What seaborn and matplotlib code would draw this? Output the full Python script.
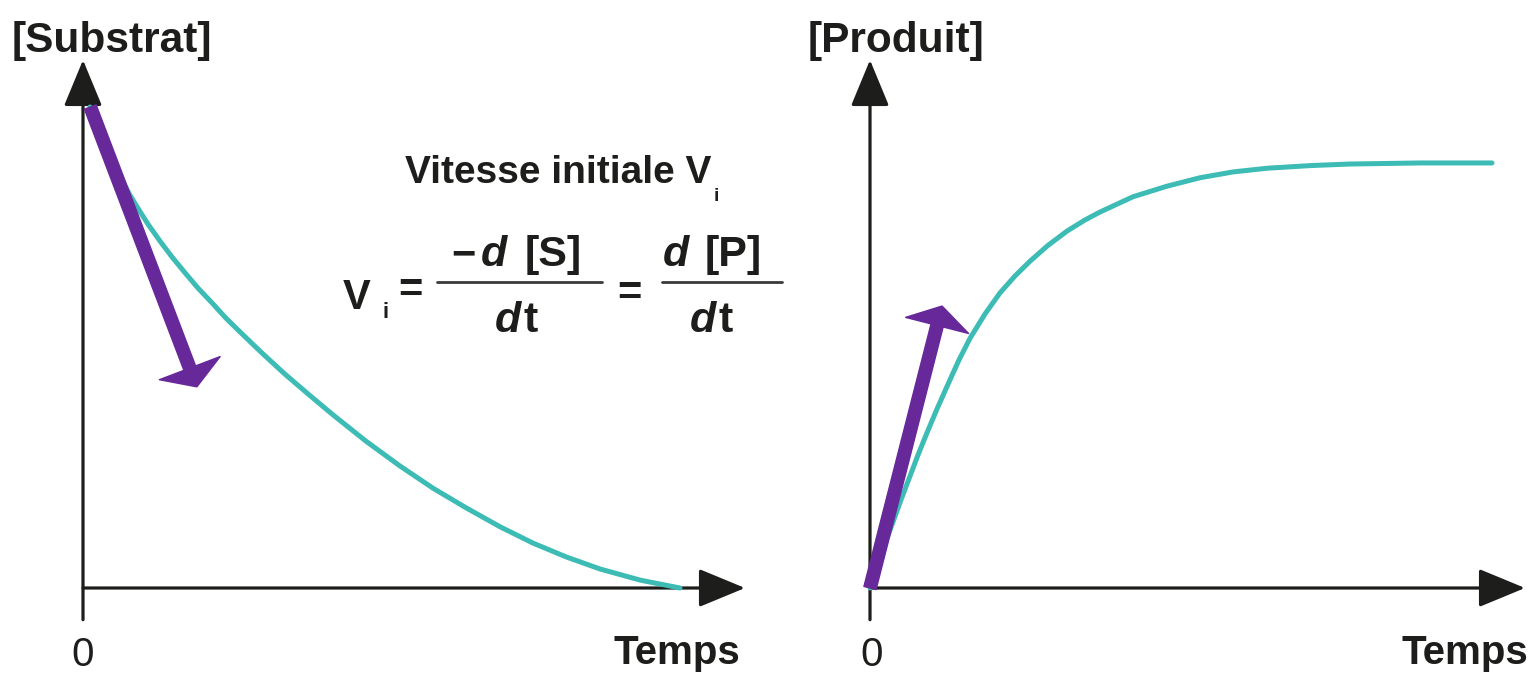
import matplotlib
matplotlib.use("Agg")
import matplotlib.pyplot as plt
import seaborn as sns

# courbes (unites arbitraires : temps 0-100, concentration 0-100)
temps_s = [1.06, 1.81, 2.57, 3.32, 4.08, 4.98, 6.04, 7.10, 8.16, 9.82, 11.63, 13.44,
           15.41, 17.37, 19.49, 21.60, 23.72, 27.04, 30.51, 34.14, 37.76, 42.75,
           47.89, 52.87, 57.85, 62.99, 67.98, 72.96, 78.10, 84.14, 90.18]
substrat = [91.1, 88.8, 86.6, 84.3, 82.0, 79.5, 76.9, 74.4, 72.2, 68.9, 65.7, 62.7,
            59.7, 56.8, 54.0, 51.1, 48.5, 44.5, 40.5, 36.6, 32.8, 27.8,
            23.1, 18.9, 15.2, 11.6, 8.5, 5.9, 3.6, 1.5, 0.0]

temps_p = [0, 0.76, 1.53, 2.44, 3.51, 4.73, 6.11, 7.33, 8.70, 10.23, 11.91, 13.59,
           15.27, 17.56, 19.85, 22.14, 24.43, 27.18, 30.08, 32.82, 35.11, 37.71,
           40.15, 45.34, 50.38, 55.42, 60.61, 67.18, 73.28, 83.97, 94.96]
produit = [0, 2.84, 5.68, 8.90, 12.5, 16.7, 21.2, 25.2, 29.4, 33.9, 38.6, 43.2,
           47.3, 51.9, 55.9, 59.1, 61.9, 64.9, 67.6, 69.7, 71.2, 72.7,
           74.1, 76.1, 77.7, 78.8, 79.5, 80.0, 80.3, 80.5, 80.5]

# tangentes a l'origine (debut, fin)
tangente_s = [(1.1, 91.1), (17.2, 38.1)]
tangente_p = [(0.0, 0.0), (11.0, 53.4)]

teal = "#3cbcb4"
violet = "#67289a"
noir = "#1d1d1b"

sns.set_theme(style="white")
plt.rcParams["font.family"] = ["Liberation Sans", "DejaVu Sans"]

W, H = 1531, 676
fig = plt.figure(figsize=(W / 100, H / 100), dpi=100)


def px(x, y):
    return x / W, 1 - y / H


def place(ax, left, right, x0, y0, sx, sy):
    # axes covering pixels [left, right] x [0, H], origin at (x0, y0)
    ax.set_position([left / W, 0, (right - left) / W, 1])
    ax.set_xlim((left - x0) / sx, (right - x0) / sx)
    ax.set_ylim(-(H - y0) / sy, y0 / sy)
    ax.set_axis_off()


ax1 = fig.add_axes([0, 0, 0.5, 1])
ax2 = fig.add_axes([0.5, 0, 0.5, 1])
place(ax1, 0, W / 2, 83, 588, 6.62, 5.28)
place(ax2, W / 2, W, 870, 588, 6.55, 5.28)

axe = dict(arrowstyle="-|>,head_length=1.45,head_width=0.6", color=noir, lw=2.3,
           shrinkA=0, shrinkB=0, mutation_scale=20)
fleche = dict(arrowstyle="simple,head_length=0.4,head_width=1.3,tail_width=0.25",
              color=violet, shrinkA=0, shrinkB=0, mutation_scale=36)

for ax in (ax1, ax2):
    ax.annotate("", xy=(100, 0), xytext=(0, 0), arrowprops=axe, zorder=2)
    ax.annotate("", xy=(0, 100), xytext=(0, -6), arrowprops=axe, zorder=2)

sns.lineplot(x=temps_s, y=substrat, ax=ax1, color=teal, linewidth=3.6, zorder=3,
             solid_joinstyle="round")
sns.lineplot(x=temps_p, y=produit, ax=ax2, color=teal, linewidth=3.6, zorder=3,
             solid_joinstyle="round")

ax1.annotate("", xy=tangente_s[1], xytext=tangente_s[0], arrowprops=fleche, zorder=4)
ax2.annotate("", xy=tangente_p[1], xytext=tangente_p[0], arrowprops=fleche, zorder=4)

# textes
b = dict(color=noir, fontweight="bold", va="baseline")
fig.text(*px(12, 52), "[Substrat]", fontsize=30.5, ha="left", **b)
fig.text(*px(808, 52), "[Produit]", fontsize=30.5, ha="left", **b)
fig.text(*px(740, 664), "Temps", fontsize=29, ha="right", **b)
fig.text(*px(1528, 664), "Temps", fontsize=29, ha="right", **b)
fig.text(*px(83, 666), "0", fontsize=29, ha="center", va="baseline", color=noir)
fig.text(*px(872, 666), "0", fontsize=29, ha="center", va="baseline", color=noir)

fig.text(*px(405, 183), "Vitesse initiale V", fontsize=28, ha="left", **b)
fig.text(*px(716, 201), "i", fontsize=14, ha="center", **b)

# equation
it = dict(color=noir, fontweight="bold", fontstyle="italic", va="baseline", ha="center")
fig.text(*px(357, 309), "V", fontsize=30, ha="center", **b)
fig.text(*px(386, 318), "i", fontsize=16, ha="center", **b)
fig.text(*px(410, 302), "=", fontsize=30, ha="center", **b)
fig.text(*px(463, 266), "\u2212", fontsize=30, ha="center", **b)
fig.text(*px(494, 266), "d", fontsize=31, **it)
fig.text(*px(553, 266), "[S]", fontsize=31, ha="center", **b)
fig.text(*px(508, 332), "d", fontsize=31, **it)
fig.text(*px(531, 332), "t", fontsize=31, ha="center", **b)
fig.text(*px(629, 305), "=", fontsize=30, ha="center", **b)
fig.text(*px(676, 266), "d", fontsize=31, **it)
fig.text(*px(733, 266), "[P]", fontsize=31, ha="center", **b)
fig.text(*px(703, 332), "d", fontsize=31, **it)
fig.text(*px(726, 332), "t", fontsize=31, ha="center", **b)

for x0, x1 in [(437, 602), (662, 782)]:
    fig.add_artist(plt.Line2D([x0 / W, x1 / W], [1 - 282 / H] * 2, color="#3a3a3a",
                              lw=2, transform=fig.transFigure))

fig.savefig("out.png", dpi=100)
